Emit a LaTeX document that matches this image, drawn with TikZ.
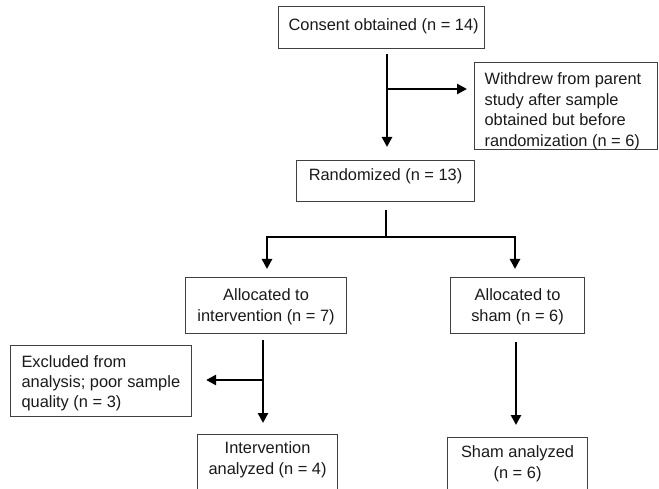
\documentclass[tikz,border=0pt]{standalone}
\usepackage{fontspec}
\setmainfont{Liberation Sans}
\usetikzlibrary{arrows.meta}
\definecolor{txt}{HTML}{1A1A1A}
\definecolor{bord}{HTML}{404040}
\newcommand{\bxt}[5]{\parbox[c][#2][t]{#1}{\vspace*{#3}#4\strut #5}}
\newcommand{\lft}[1]{\raggedright\leftskip=#1\relax}
\tikzset{
  box/.style={draw=bord, line width=1.1pt, inner sep=0pt, anchor=north west,
    text=txt, font=\fontsize{16.4}{20.5}\selectfont},
  ln/.style={line width=2.7pt, black, line join=miter},
  arr/.style={ln, -{Triangle[length=10pt,width=10pt]}},
  arr2/.style={ln, {Triangle[length=10pt,width=10pt]}-{Triangle[length=10pt,width=10pt]}}
}
\begin{document}
\begin{tikzpicture}[x=1pt,y=-1pt]
\clip (0,0) rectangle (659,489);
\fill[white] (0,0) rectangle (659,489);

\node[box] (consent) at (278,6) {\bxt{206pt}{42pt}{9.65pt}{\lft{10pt}}{Consent obtained (n = 14)}};
\node[box] (withdrew) at (474,62) {\bxt{183pt}{87pt}{7.65pt}{\lft{10pt}}{Withdrew from parent\\study after sample\\obtained but before\\randomization (n = 6)}};
\node[box] (rand) at (296,160) {\bxt{178pt}{41pt}{5.65pt}{\centering}{Randomized (n = 13)}};
\node[box] (allocI) at (185,277) {\bxt{161pt}{56pt}{8.65pt}{\centering}{Allocated to\\intervention (n = 7)}};
\node[box] (allocS) at (450,277) {\bxt{134pt}{56pt}{8.65pt}{\centering}{Allocated to\\sham (n = 6)}};
\node[box] (excl) at (10,345) {\bxt{181pt}{71pt}{7.65pt}{\lft{11pt}\baselineskip=20pt}{Excluded from\\analysis; poor sample\\quality (n = 3)}};
\node[box] (intA) at (197,434) {\bxt{140pt}{70pt}{4.65pt}{\centering}{Intervention\\analyzed (n = 4)}};
\node[box] (shamA) at (447,437) {\bxt{140pt}{70pt}{5.65pt}{\centering}{Sham analyzed\\(n = 6)}};

\coordinate (c1) at (387,89);
\coordinate (c2) at (386,237);
\coordinate (c3) at (267,237);
\coordinate (c4) at (515,237);
\coordinate (c5) at (263,380);
\coordinate (c6) at (516,380);

\draw[arr, shorten <=5pt, shorten >=13pt] (consent.south -| c1) -- (rand.north -| c1);
\draw[arr, shorten >=7pt] (c1) -- (c1 -| withdrew.west);

\draw[ln, shorten <=8pt] (rand.south -| c2) -- (c2);
\draw[arr2, shorten <=8pt, shorten >=8pt] (c3 |- allocI.north) -- (c3) -- (c4) -- (c4 |- allocS.north);

\draw[arr, shorten <=6pt, shorten >=11pt] (allocI.south -| c5) -- (intA.north -| c5);
\draw[arr, shorten >=14pt] (c5) -- (c5 -| excl.east);

\draw[arr, shorten <=8pt, shorten >=12pt] (allocS.south -| c6) -- (shamA.north -| c6);
\end{tikzpicture}
\end{document}
